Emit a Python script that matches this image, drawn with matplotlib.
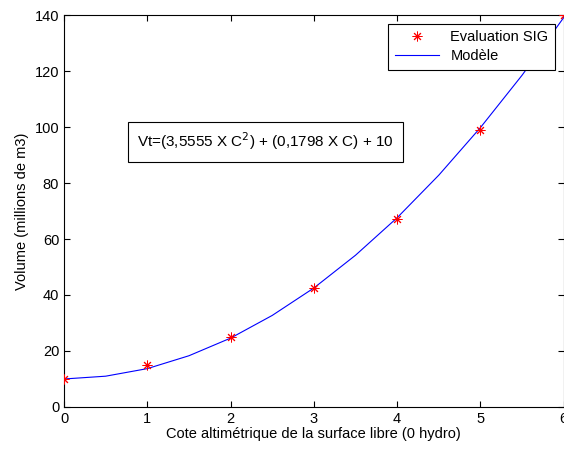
import numpy as np
import matplotlib.pyplot as plt

plt.rcParams['font.family'] = ['Liberation Sans', 'DejaVu Sans']

# points "Evaluation SIG"
cote = [0, 1, 2, 3, 4, 5, 6]
volume = [10, 15, 25, 42.5, 67, 99, 140]

# courbe "Modele"
cote_mod = [0, 0.5, 1, 1.5, 2, 2.5, 3, 3.5, 4, 4.5, 5, 5.5, 6]
vol_mod = [10, 11.0, 13.7, 18.3, 24.6, 32.7, 42.5, 54.2, 67.6, 82.8, 99.8, 118.5, 139.1]

fs = 10.5

fig = plt.figure(figsize=(5.64, 4.5), dpi=100)
ax = fig.add_axes([0.1135, 0.0956, 0.886, 0.871])

ax.plot(cote, volume, linestyle='none', marker=(8, 2, 0), color='red',
        markersize=7, markeredgewidth=0.7, label='Evaluation SIG', zorder=3)
ax.plot(cote_mod, vol_mod, color='blue', linewidth=0.8, label='Modèle', zorder=2)

ax.set_xlim(0, 6)
ax.set_ylim(0, 140)
ax.set_xticks(range(0, 7))
ax.set_yticks(range(0, 141, 20))
ax.tick_params(direction='in', top=True, right=True, labelsize=fs, length=4, width=0.8)
for s in ax.spines.values():
    s.set_linewidth(0.8)

ax.set_xlabel('Cote altimétrique de la surface libre (0 hydro)', fontsize=fs, labelpad=1)
ax.set_ylabel('Volume (millions de m3)', fontsize=fs, labelpad=4)

leg = ax.legend(loc='upper right', fontsize=fs, fancybox=False, framealpha=1,
                edgecolor='black', borderaxespad=0.6, handlelength=3.0,
                borderpad=0.45, labelspacing=0.35)
leg.get_frame().set_linewidth(0.8)

ax.text(0.146, 0.677, r'Vt=(3,5555 X C$^2$) + (0,1798 X C) + 10', transform=ax.transAxes,
        fontsize=11, va='center', ha='left',
        bbox=dict(boxstyle='square,pad=0.6', facecolor='white', edgecolor='black', linewidth=0.8))

fig.savefig('out.png', dpi=100)
